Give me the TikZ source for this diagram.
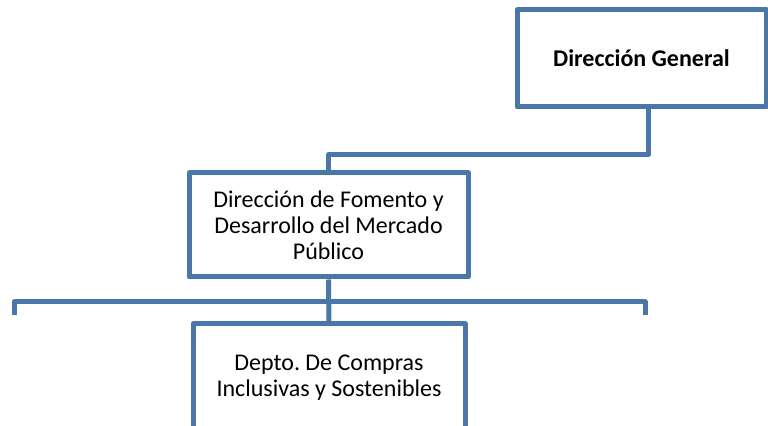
\documentclass[tikz,border=0pt]{standalone}
\usepackage{fontspec}
\setmainfont{Carlito}
\usepackage{xcolor}
\usepackage{tikz}
\definecolor{orgblue}{RGB}{74,118,168}
\tikzset{
  unit/.style={draw=orgblue, line width=2.5pt, line join=round, fill=white,
    align=center, font=\fontsize{12}{13}\selectfont, inner sep=2pt},
  link/.style={draw=orgblue, line width=2.5pt, line join=round}
}

\begin{document}
\begin{tikzpicture}[x=0.5pt,y=-0.5pt]
  \clip (0,0) rectangle (768,426);
  \fill[white] (0,0) rectangle (768,426);
  \node[unit, minimum width=124.5pt, minimum height=48.5pt] (dg) at (641.5,58.5)
    {\textbf{Dirección General}};
  \node[unit, minimum width=139.5pt, minimum height=52pt] (dfm) at (328.5,225)
    {Dirección de Fomento y\\Desarrollo del Mercado\\Público};
  \node[unit, minimum width=136pt, minimum height=54pt] (dcis) at (329,378)
    {Depto.\ De Compras\\Inclusivas y Sostenibles};
  \coordinate (barl) at (14,315);
  \coordinate (barr) at (645,315);
  \draw[link] ([xshift=3.5pt]dg.south) -- ++(0,45) -| (dfm.north);
  \draw[link] (barl) -- (14,302) -- (645,302) -- (barr);
  \draw[link] (dfm.south) -- (dcis.north);
\end{tikzpicture}
\end{document}
